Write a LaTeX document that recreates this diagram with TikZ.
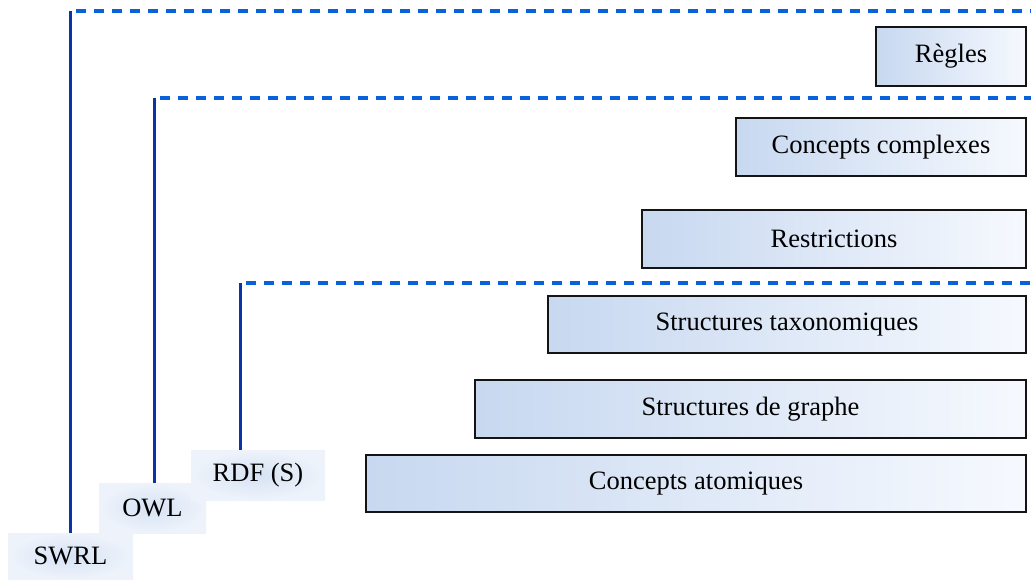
\documentclass[tikz,border=0pt]{standalone}
\usepackage{fontspec}
\setmainfont{Liberation Serif}
\definecolor{boxleft}{RGB}{199,216,240}
\definecolor{boxright}{RGB}{246,249,254}
\definecolor{tagfill}{RGB}{238,243,251}
\definecolor{tagglow}{RGB}{214,226,244}
\definecolor{layerline}{RGB}{10,98,218}
\definecolor{stemline}{RGB}{8,52,168}
\definecolor{boxedge}{RGB}{20,20,20}
\begin{document}
\begin{tikzpicture}[x=1pt,y=-1pt,
  every node/.style={font=\fontsize{26.5}{30}\selectfont, inner sep=0pt},
  layerbox/.style={draw=boxedge, line width=2.2pt, left color=boxleft, right color=boxright, minimum height=#1},
  layerbox/.default=57,
  tag/.style={inner color=tagglow, outer color=tagfill},
  stem/.style={draw=stemline, line width=3pt},
  bound/.style={draw=layerline, line width=3.2pt, dash pattern=on 10 off 8, dash phase=12}
]
\useasboundingbox (0,0) rectangle (1031,579);

% language labels
\node[tag, minimum width=125, minimum height=46] (swrl) at (70.5,556) {SWRL};
\node[tag, minimum width=107, minimum height=50] (owl) at (152.5,508) {OWL};
\node[tag, minimum width=134, minimum height=50] (rdf) at (258,475) {RDF (S)};

% corners where each language boundary turns right
\coordinate (swrltop) at (70,11);
\coordinate (owltop) at (154,98);
\coordinate (rdftop) at (240,283);
\coordinate (swrlend) at (1031,11);
\coordinate (owlend) at (1031,98);
\coordinate (rdfend) at (1031,283);

\draw[stem] (swrl.north -| swrltop) -- (swrltop);
\draw[stem] (owl.north -| owltop) -- (owltop);
\draw[stem] (rdf.north -| rdftop) -- (rdftop);
\draw[bound] (swrltop) -- (swrlend);
\draw[bound] (owltop) -- (owlend);
\draw[bound] (rdftop) -- (rdfend);

% expressivity layers
\node[layerbox=59, minimum width=150] (regles) at (951,56.5) {Règles};
\node[layerbox=58, minimum width=290] (complexes) at (881,147) {Concepts complexes};
\node[layerbox=58, minimum width=384] (restrictions) at (834,239) {Restrictions};
\node[layerbox=57, minimum width=478] (taxo) at (787,324.5) {Structures taxonomiques};
\node[layerbox=58, minimum width=551] (graphe) at (750.5,409) {Structures de graphe};
\node[layerbox=57, minimum width=660] (atomiques) at (696,483.5) {Concepts atomiques};
\end{tikzpicture}
\end{document}
